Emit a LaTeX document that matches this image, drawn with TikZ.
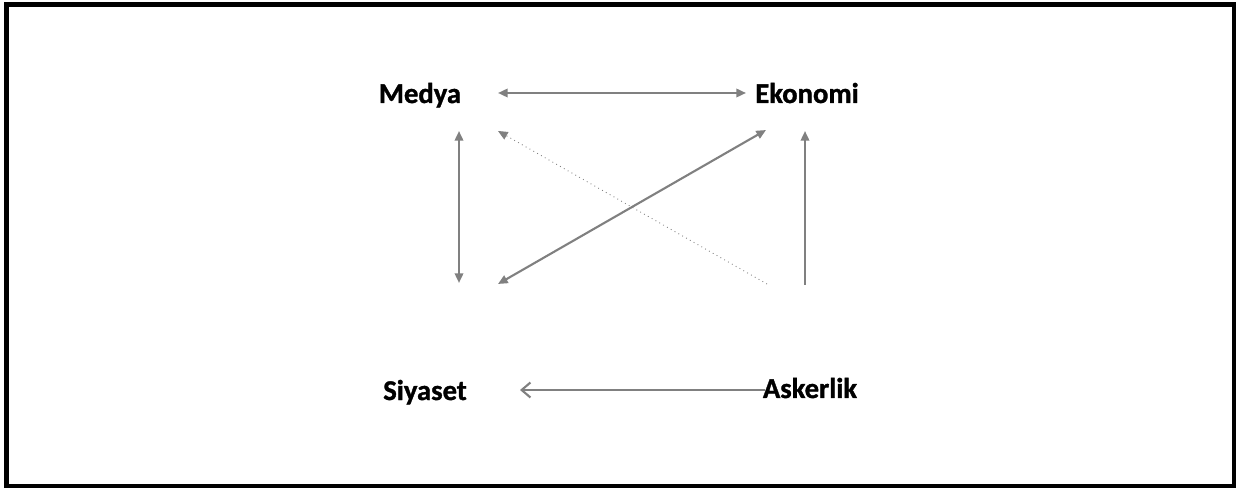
\documentclass[tikz,border=0pt]{standalone}
\usepackage{fontspec}
\setmainfont{Carlito}[BoldFeatures={FakeBold=1.2}]
\usetikzlibrary{arrows.meta}
\definecolor{linkgray}{HTML}{808080}
\tikzset{
  label/.style={font=\fontsize{16.3}{19}\selectfont\bfseries, inner sep=0pt, anchor=base},
  link/.style={draw=linkgray, line width=1.2pt},
  oneway/.style={link, -{Triangle[length=5.5pt,width=4.8pt]}},
  twoway/.style={link, {Triangle[length=5.5pt,width=4.8pt]}-{Triangle[length=5.5pt,width=4.8pt]}},
  faint/.style={draw=linkgray, line width=0.5pt, dotted, -{Triangle[length=5.5pt,width=4.8pt]}},
  open/.style={link, -{Straight Barb[length=5pt,width=8.5pt]}}
}
\begin{document}
\begin{tikzpicture}[x=0.02cm, y=-0.02cm]
  \useasboundingbox (0,0) rectangle (1237,489);
  \draw[line width=2.8pt] (6.5,4.5) rectangle (1234,486);
  \node[label] (medya) at (420,103) {Medya};
  \node[label] (ekonomi) at (807,103) {Ekonomi};
  \node[label] (siyaset) at (425,400) {Siyaset};
  \node[label] (askerlik) at (810,398) {Askerlik};
  \draw[twoway] ([shift={(78,-10)}]medya.base) -- ([shift={(-61,-10)}]ekonomi.base);
  \draw[twoway] ([shift={(39,28)}]medya.base) -- ([shift={(34,-117)}]siyaset.base);
  \draw[twoway] ([shift={(73,-116)}]siyaset.base) -- ([shift={(-41,27)}]ekonomi.base);
  \draw[faint] ([shift={(-43,-114)}]askerlik.base) -- ([shift={(78,28)}]medya.base);
  \draw[oneway] ([shift={(-5,-113)}]askerlik.base) -- ([shift={(-2,28)}]ekonomi.base);
  \draw[open] ([shift={(-45,-8)}]askerlik.base) -- ([shift={(95,-10)}]siyaset.base);
\end{tikzpicture}
\end{document}
